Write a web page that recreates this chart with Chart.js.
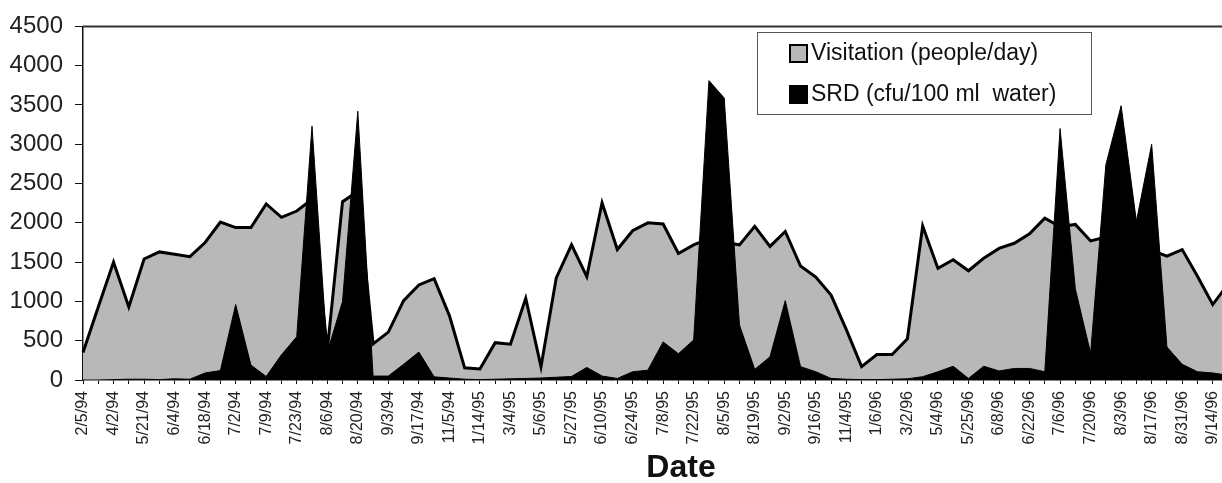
<!DOCTYPE html>
<html>
<head>
<meta charset="utf-8">
<script src="https://cdn.jsdelivr.net/npm/chart.js@4.4.1/dist/chart.umd.min.js"></script>
<style>
  html, body { margin: 0; padding: 0; background: #fff; overflow: hidden; }
  #wrap { width: 1230px; height: 483px; }
</style>
</head>
<body>
<div id="wrap"><canvas id="myChart" width="1230" height="483"></canvas></div>
<script>
// one label on every second sample
const dateLabels = [
  '2/5/94', '4/2/94', '5/21/94', '6/4/94', '6/18/94', '7/2/94', '7/9/94', '7/23/94',
  '8/6/94', '8/20/94', '9/3/94', '9/17/94', '11/5/94', '1/14/95', '3/4/95', '5/6/95',
  '5/27/95', '6/10/95', '6/24/95', '7/8/95', '7/22/95', '8/5/95', '8/19/95', '9/2/95',
  '9/16/95', '11/4/95', '1/6/96', '3/2/96', '5/4/96', '5/25/96', '6/8/96', '6/22/96',
  '7/6/96', '7/20/96', '8/3/96', '8/17/96', '8/31/96', '9/14/96'
]

const visitation = [
  350, 930, 1500, 930, 1540, 1630, 1600, 1570, 1750, 2010,
  1940, 1940, 2240, 2070, 2150, 2300, 380, 2270, 2400, 460,
  610, 1010, 1210, 1290, 820, 155, 140, 475, 455, 1040,
  170, 1300, 1720, 1315, 2255, 1660, 1900, 2000, 1985, 1610,
  1720, 1800, 1750, 1720, 1955, 1700, 1890, 1450, 1310, 1080,
  640, 170, 325, 325, 525, 1960, 1420, 1530, 1390, 1550,
  1675, 1740, 1860, 2060, 1950, 1980, 1770, 1820, 1800, 1750,
  1650, 1575, 1660, 1320, 960, 1220
]

const srd = [
  0, 0, 5, 10, 10, 5, 15, 10, 90, 120,
  960, 190, 45, 320, 550, 3230, 350, 1000, 3420, 50,
  50, 200, 355, 40, 25, 10, 5, 10, 15, 20,
  25, 35, 45, 160, 50, 20, 105, 125, 485, 335,
  510, 3810, 3590, 700, 135, 295, 1010, 170, 105, 20,
  10, 5, 5, 10, 15, 42, 105, 175, 20, 175,
  115, 147, 147, 105, 3200, 1160, 340, 2740, 3490, 2020,
  3000, 420, 200, 105, 90, 60
]

const yMax = 4500
const yStep = 500

const categories = visitation.map((v, i) => i % 2 === 0 ? (dateLabels[i / 2] || '') : '')

Chart.defaults.font.family = '"Liberation Sans", Arial, sans-serif'
Chart.defaults.color = '#222'

// top border of the plot box
const frame = {
  id: 'frame',
  afterDatasetsDraw(chart) {
    const { ctx, chartArea: a } = chart
    ctx.save()
    ctx.strokeStyle = '#333'
    ctx.lineWidth = 2
    ctx.beginPath()
    ctx.moveTo(a.left, a.top)
    ctx.lineTo(a.right, a.top)
    ctx.lineTo(a.right, a.bottom)
    ctx.stroke()
    ctx.restore()
  }
}

// boxed legend inside the plot + "Date" axis title
const boxLegend = {
  id: 'boxLegend',
  afterDraw(chart) {
    const ctx = chart.ctx
    ctx.save()
    ctx.strokeStyle = '#555'
    ctx.lineWidth = 1
    ctx.strokeRect(757.5, 32.5, 334, 82)

    ctx.font = '23px "Liberation Sans", Arial, sans-serif'
    ctx.textBaseline = 'middle'
    const items = chart.data.datasets.slice().reverse()
    items.forEach((ds, row) => {
      const y = 45 + row * 41
      ctx.fillStyle = ds.backgroundColor
      ctx.fillRect(790, y, 17, 17)
      ctx.strokeStyle = '#000'
      ctx.lineWidth = 2
      ctx.strokeRect(790, y, 17, 17)
      ctx.fillStyle = '#111'
      ctx.fillText(ds.label, 811, y + 9)
    })

    ctx.font = 'bold 32px "Liberation Sans", Arial, sans-serif'
    ctx.textAlign = 'center'
    ctx.textBaseline = 'alphabetic'
    ctx.fillText('Date', 681, 477)
    ctx.restore()
  }
}

const ctx = document.getElementById('myChart')

new Chart(ctx, {
  type: 'line',
  data: {
    labels: categories,
    datasets: [
      {
        label: 'SRD (cfu/100 ml  water)',
        data: srd,
        backgroundColor: '#000',
        borderColor: '#000',
        borderWidth: 1,
        fill: 'origin',
        pointRadius: 0,
        tension: 0,
        order: 0
      },
      {
        label: 'Visitation (people/day)',
        data: visitation,
        backgroundColor: '#b8b8b8',
        borderColor: '#000',
        borderWidth: 3,
        fill: 'origin',
        pointRadius: 0,
        tension: 0,
        order: 1
      }
    ]
  },
  options: {
    responsive: false,
    animation: false,
    devicePixelRatio: 1,
    layout: { padding: { top: 23, left: 0, right: 2, bottom: 0 } },
    plugins: {
      legend: { display: false },
      tooltip: { enabled: false }
    },
    scales: {
      x: {
        afterFit: (scale) => {
          scale.height = 103
          scale.paddingLeft = 0
          scale.paddingRight = 0
        },
        grid: { drawOnChartArea: false, drawTicks: true, tickLength: 4, color: '#111', lineWidth: 1 },
        border: { display: true, color: '#111', width: 1.5 },
        ticks: {
          autoSkip: false,
          minRotation: 90,
          maxRotation: 90,
          padding: 7,
          color: '#222',
          font: { size: 16 }
        }
      },
      y: {
        min: 0,
        max: yMax,
        afterFit: (scale) => { scale.width = 83 },
        grid: { drawOnChartArea: false, drawTicks: true, tickLength: 8, color: '#111', lineWidth: 1 },
        border: { display: true, color: '#111', width: 1.5 },
        ticks: {
          stepSize: yStep,
          padding: 12,
          color: '#222',
          font: { size: 24 },
          callback: (v) => String(v)
        }
      }
    }
  },
  plugins: [frame, boxLegend]
})
</script>
</body>
</html>
